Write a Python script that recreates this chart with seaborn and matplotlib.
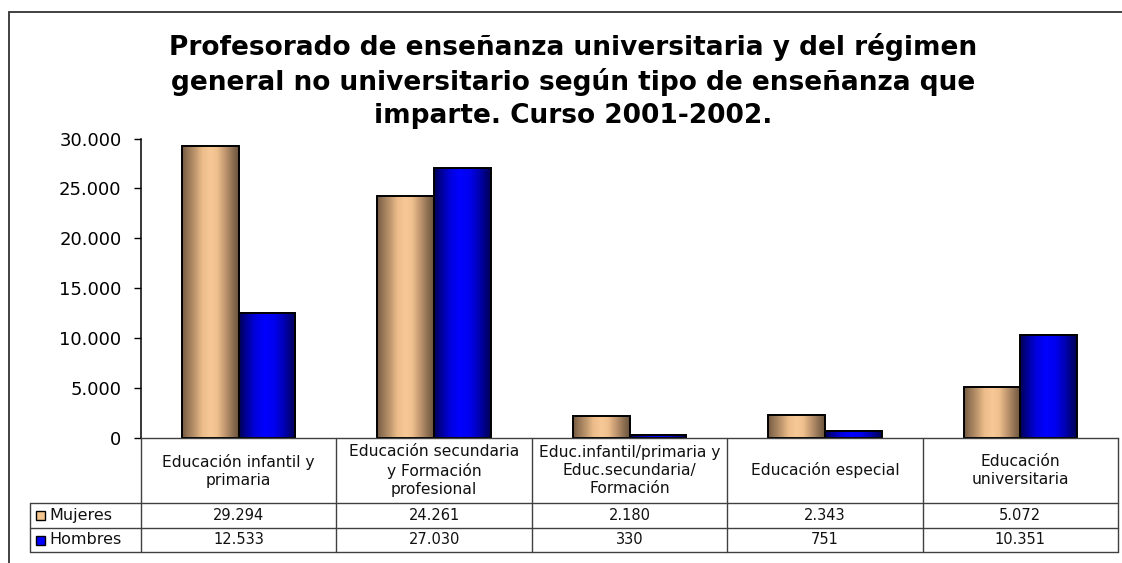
import numpy as np
import pandas as pd
import matplotlib
matplotlib.use("Agg")
import matplotlib.pyplot as plt
from matplotlib.colors import LinearSegmentedColormap
from matplotlib.patches import Rectangle
from matplotlib.lines import Line2D
from matplotlib.ticker import FuncFormatter
import seaborn as sns

# ---- data -------------------------------------------------------------
categorias = [
    "Educación infantil y\nprimaria",
    "Educación secundaria\ny Formación\nprofesional",
    "Educ.infantil/primaria y\nEduc.secundaria/\nFormación",
    "Educación especial",
    "Educación\nuniversitaria",
]
series = ["Mujeres", "Hombres"]
mujeres = [29294, 24261, 2180, 2343, 5072]
hombres = [12533, 27030, 330, 751, 10351]
y_ticks = [0, 5000, 10000, 15000, 20000, 25000, 30000]

titulo = ("Profesorado de enseñanza universitaria y del régimen\n"
          "general no universitario según tipo de enseñanza que\n"
          "imparte. Curso 2001-2002.")

df = pd.DataFrame({
    "categoria": categorias * 2,
    "sexo": [series[0]] * len(categorias) + [series[1]] * len(categorias),
    "valor": mujeres + hombres,
})


def miles(v, _pos=None):
    return f"{int(round(v)):,}".replace(",", ".")


# ---- style ------------------------------------------------------------
sns.set_style("white")
plt.rcParams["font.family"] = ["DejaVu Sans"]
plt.rcParams["text.color"] = "black"
plt.rcParams["ytick.color"] = "black"
plt.rcParams["ytick.labelcolor"] = "black"

W, H = 1122, 563
fig = plt.figure(figsize=(W / 100, H / 100), dpi=100)

# plot area in pixels: x 141..1118, y 138.5..438
ax_l, ax_r, ax_t, ax_b = 141, 1118, 138.5, 438
ax = fig.add_axes([ax_l / W, 1 - ax_b / H, (ax_r - ax_l) / W, (ax_b - ax_t) / H])

base_cols = {"Mujeres": "#f5c590", "Hombres": "#0000ff"}
sns.barplot(data=df, x="categoria", y="valor", hue="sexo",
            order=categorias, hue_order=series,
            palette=base_cols, width=0.58, edgecolor="black",
            linewidth=1.4, legend=False, ax=ax)

# cylinder-style shading across each bar
shade = {
    "Mujeres": LinearSegmentedColormap.from_list("muj", [
        (0.00, "#745a41"), (0.10, "#967656"), (0.22, "#bb946b"),
        (0.36, "#ecbd8a"), (0.50, "#f7c996"), (0.62, "#efc08d"),
        (0.76, "#c09670"), (0.89, "#8e7052"), (1.00, "#6a533d")]),
    "Hombres": LinearSegmentedColormap.from_list("hom", [
        (0.00, "#000050"), (0.12, "#000095"), (0.28, "#0000dc"),
        (0.45, "#0000ff"), (0.62, "#0000f0"), (0.78, "#0000b8"),
        (0.90, "#000080"), (1.00, "#000055")]),
}
grad = np.linspace(0, 1, 256).reshape(1, -1)
for name, container in zip(series, ax.containers):
    for bar in container:
        x0, w, h = bar.get_x(), bar.get_width(), bar.get_height()
        ax.imshow(grad, cmap=shade[name], aspect="auto",
                  extent=[x0, x0 + w, 0, h], zorder=1.5, interpolation="bilinear")
        bar.set_facecolor("none")
        bar.set_zorder(2)

ax.set_xlim(-0.5, len(categorias) - 0.5)
ax.set_ylim(0, 30000)
ax.set_yticks(y_ticks)
ax.yaxis.set_major_formatter(FuncFormatter(miles))
ax.set_xticks([])
ax.set_xlabel("")
ax.set_ylabel("")
ax.tick_params(axis="y", direction="out", length=5, width=1, color="black",
               labelsize=13, pad=9, left=True, labelcolor="black")
for s in ("top", "right"):
    ax.spines[s].set_visible(False)
ax.spines["left"].set_color("black")
ax.spines["left"].set_linewidth(1.1)
ax.spines["bottom"].set_color("#404040")
ax.spines["bottom"].set_linewidth(1.0)

# ---- data table under the axis ---------------------------------------
ax_h = ax_b - ax_t
ax_w = ax_r - ax_l


def fy(py):  # pixel row -> axes fraction
    return (ax_b - py) / ax_h


def fx(px):  # pixel column -> axes fraction
    return (px - ax_l) / ax_w


row_head, row_m, row_h = 503, 528, 552
leg_left = 30
line_kw = dict(color="#404040", lw=1.0, clip_on=False)

# horizontal rules
for py in (row_head, row_m, row_h):
    ax.add_line(Line2D([fx(leg_left), 1], [fy(py), fy(py)],
                       transform=ax.transAxes, **line_kw))
# vertical rules at category boundaries
for i in range(len(categorias) + 1):
    xf = i / len(categorias)
    ax.add_line(Line2D([xf, xf], [0, fy(row_h)], transform=ax.transAxes, **line_kw))
ax.add_line(Line2D([fx(leg_left), fx(leg_left)], [fy(row_head), fy(row_h)],
                   transform=ax.transAxes, **line_kw))

# category header cells
for i, cat in enumerate(categorias):
    ax.text((i + 0.5) / len(categorias), fy((ax_b + row_head) / 2), cat,
            transform=ax.transAxes, ha="center", va="center",
            multialignment="center", fontsize=11.2, linespacing=1.25,
            color="#111111")

# value rows with legend keys
rows = [(series[0], mujeres, (row_head + row_m) / 2),
        (series[1], hombres, (row_m + row_h) / 2)]
for name, vals, yc in rows:
    for i, v in enumerate(vals):
        ax.text((i + 0.5) / len(categorias), fy(yc), miles(v),
                transform=ax.transAxes, ha="center", va="center",
                fontsize=10.5, color="#111111")
    key = Rectangle((fx(36), fy(yc + 4.5)), 9 / ax_w, 9 / ax_h,
                    transform=ax.transAxes, facecolor=base_cols[name],
                    edgecolor="black", lw=1.0, clip_on=False)
    ax.add_patch(key)
    ax.text(fx(49), fy(yc), name, transform=ax.transAxes, ha="left",
            va="center", fontsize=11.5, color="#111111")

# ---- title and outer frame -------------------------------------------
fig.text(573.5 / W, 1 - 33 / H, titulo, ha="center", va="top",
         multialignment="center", fontsize=19, fontweight="bold",
         linespacing=1.33, color="black")

fig.add_artist(Rectangle((9 / W, -0.2), 1.2, 1 - 12 / H + 0.2,
                         transform=fig.transFigure, fill=False,
                         edgecolor="#333333", lw=1.3))

fig.savefig("out.png", dpi=100)
